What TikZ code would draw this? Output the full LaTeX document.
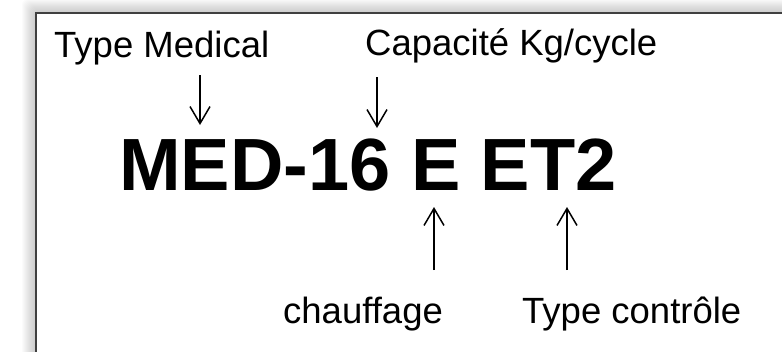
\documentclass[tikz,border=0pt]{standalone}
\usepackage{fontspec}
\setmainfont{Liberation Sans}
\usetikzlibrary{arrows.meta}
\tikzset{
  lbl/.style={anchor=base west, inner sep=0pt, font=\fontsize{36.5}{42}\selectfont},
  code/.style={anchor=base west, inner sep=0pt, font=\fontsize{74}{88}\selectfont\bfseries},
  pointer/.style={line width=1.5pt, -{Straight Barb[length=17pt,width=20pt]}}
}
\begin{document}
\begin{tikzpicture}[x=1pt,y=-1pt]
    \useasboundingbox (0,0) rectangle (782,351);
    % soft shadow round the frame
    \foreach \i in {1,...,14}
        \fill[black, opacity=0.014, rounded corners=6pt] (36-\i,13-\i) rectangle (810,380);
    \draw[black!75, line width=1.3pt, fill=white] (36,13) rectangle (810,380);
    % labels
    \node[lbl] (medical) at (54,57) {Type Medical};
    \node[lbl] (capacite) at (365,55) {Capacité Kg/cycle};
    \node[code] (ref) at (119,190) {MED-16 E ET2};
    \node[lbl] (chauffage) at (283,323) {chauffage};
    \node[lbl] (controle) at (522,323) {Type contrôle};
    % pointers
    \coordinate (m1) at (200,75);
    \coordinate (m2) at (200,125);
    \coordinate (c1) at (377,77);
    \coordinate (c2) at (377,128);
    \coordinate (h1) at (434,270);
    \coordinate (h2) at (434,207);
    \coordinate (t1) at (567,270);
    \coordinate (t2) at (567,207);
    \draw[pointer] (m1) -- (m2);
    \draw[pointer] (c1) -- (c2);
    \draw[pointer] (h1) -- (h2);
    \draw[pointer] (t1) -- (t2);
\end{tikzpicture}
\end{document}
